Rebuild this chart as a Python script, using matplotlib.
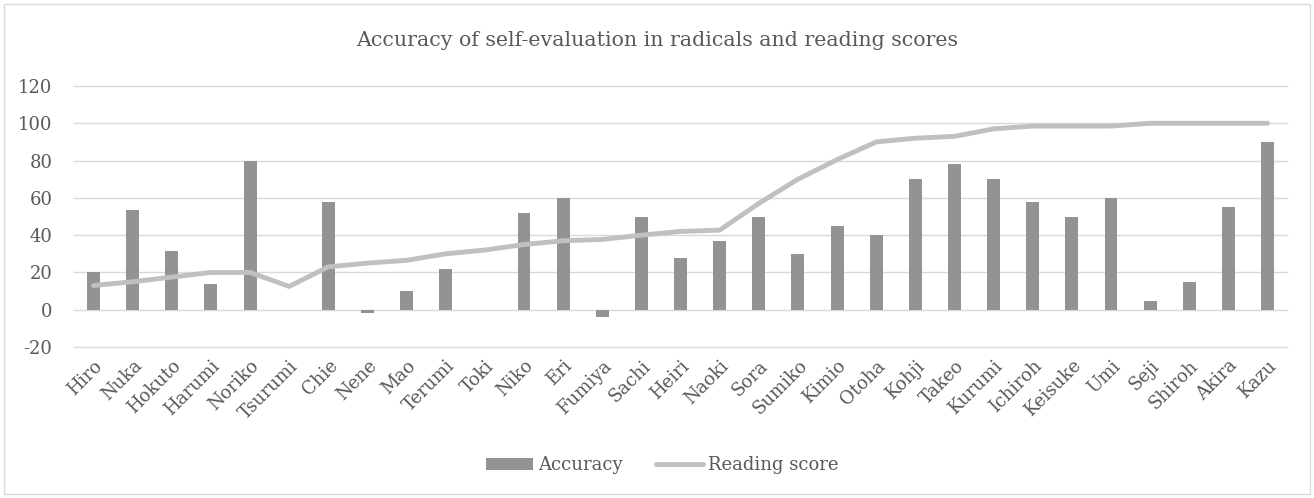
import matplotlib
matplotlib.use("Agg")
import matplotlib.pyplot as plt
import numpy as np
from matplotlib.patches import Rectangle

# chart data
names = ["Hiro", "Nuka", "Hokuto", "Harumi", "Noriko", "Tsurumi", "Chie", "Nene",
         "Mao", "Terumi", "Toki", "Niko", "Eri", "Fumiya", "Sachi", "Heiri",
         "Naoki", "Sora", "Sumiko", "Kimio", "Otoha", "Kohji", "Takeo", "Kurumi",
         "Ichiroh", "Keisuke", "Umi", "Seji", "Shiroh", "Akira", "Kazu"]
accuracy = [20, 53.5, 31.5, 14, 80, 0, 58, -2, 10, 22, 0, 52, 60, -4, 50, 28,
            37, 50, 30, 45, 40, 70, 78, 70, 58, 50, 60, 4.5, 15, 55, 90]
reading = [13, 15, 17.5, 20, 20, 12.5, 23, 25, 26.5, 30, 32, 35, 37, 37.7, 40, 42,
           42.7, 57, 70, 80.5, 90, 92, 93, 97, 98.5, 98.5, 98.5, 100, 100, 100, 100]
y_ticks = [-20, 0, 20, 40, 60, 80, 100, 120]

TEXT = "#595959"
plt.rcParams["font.family"] = ["DejaVu Serif"]
plt.rcParams["axes.unicode_minus"] = False

fig = plt.figure(figsize=(13.14, 4.98), dpi=100)
# light chart border like the Excel chart area
fig.patches.append(Rectangle((4 / 1314, 4 / 498), 1306 / 1314, 490 / 498,
                             transform=fig.transFigure, fill=False,
                             edgecolor="#D9D9D9", linewidth=1))

ax = fig.add_axes([0.0563, 0.3032, 0.9232, 0.5241])
x = np.arange(len(names))
bars = ax.bar(x, accuracy, width=0.33, color="#939393", label="Accuracy", zorder=2)
line, = ax.plot(x, reading, color="#C0C0C0", linewidth=3.5, solid_capstyle="round",
                label="Reading score", zorder=3)

ax.set_xlim(-0.5, len(names) - 0.5)
ax.set_ylim(-20, 120)
ax.set_yticks(y_ticks)
ax.grid(axis="y", color="#D9D9D9", linewidth=1, zorder=0)
for gl in ax.get_ygridlines():
    gl.set_clip_on(False)
ax.set_axisbelow(True)
for s in ax.spines.values():
    s.set_visible(False)

ax.tick_params(axis="both", length=0, colors=TEXT, labelsize=13)
ax.tick_params(axis="y", pad=15.5)
ax.set_xticks(x)
ax.set_xticklabels(names, rotation=45, ha="right", va="top",
                   rotation_mode="anchor", color=TEXT, fontsize=13)
ax.tick_params(axis="x", pad=7)

fig.text(0.5, 0.918, "Accuracy of self-evaluation in radicals and reading scores",
         ha="center", va="center", color=TEXT, fontsize=14.8)

leg = fig.legend([bars, line], ["Accuracy", "Reading score"], loc="center",
                 bbox_to_anchor=(0.504, 0.066), ncol=2, frameon=False,
                 fontsize=13, handlelength=2.6, handleheight=0.6,
                 columnspacing=1.8, handletextpad=0.3)
for t in leg.get_texts():
    t.set_color(TEXT)

fig.savefig("out.png", dpi=100)
